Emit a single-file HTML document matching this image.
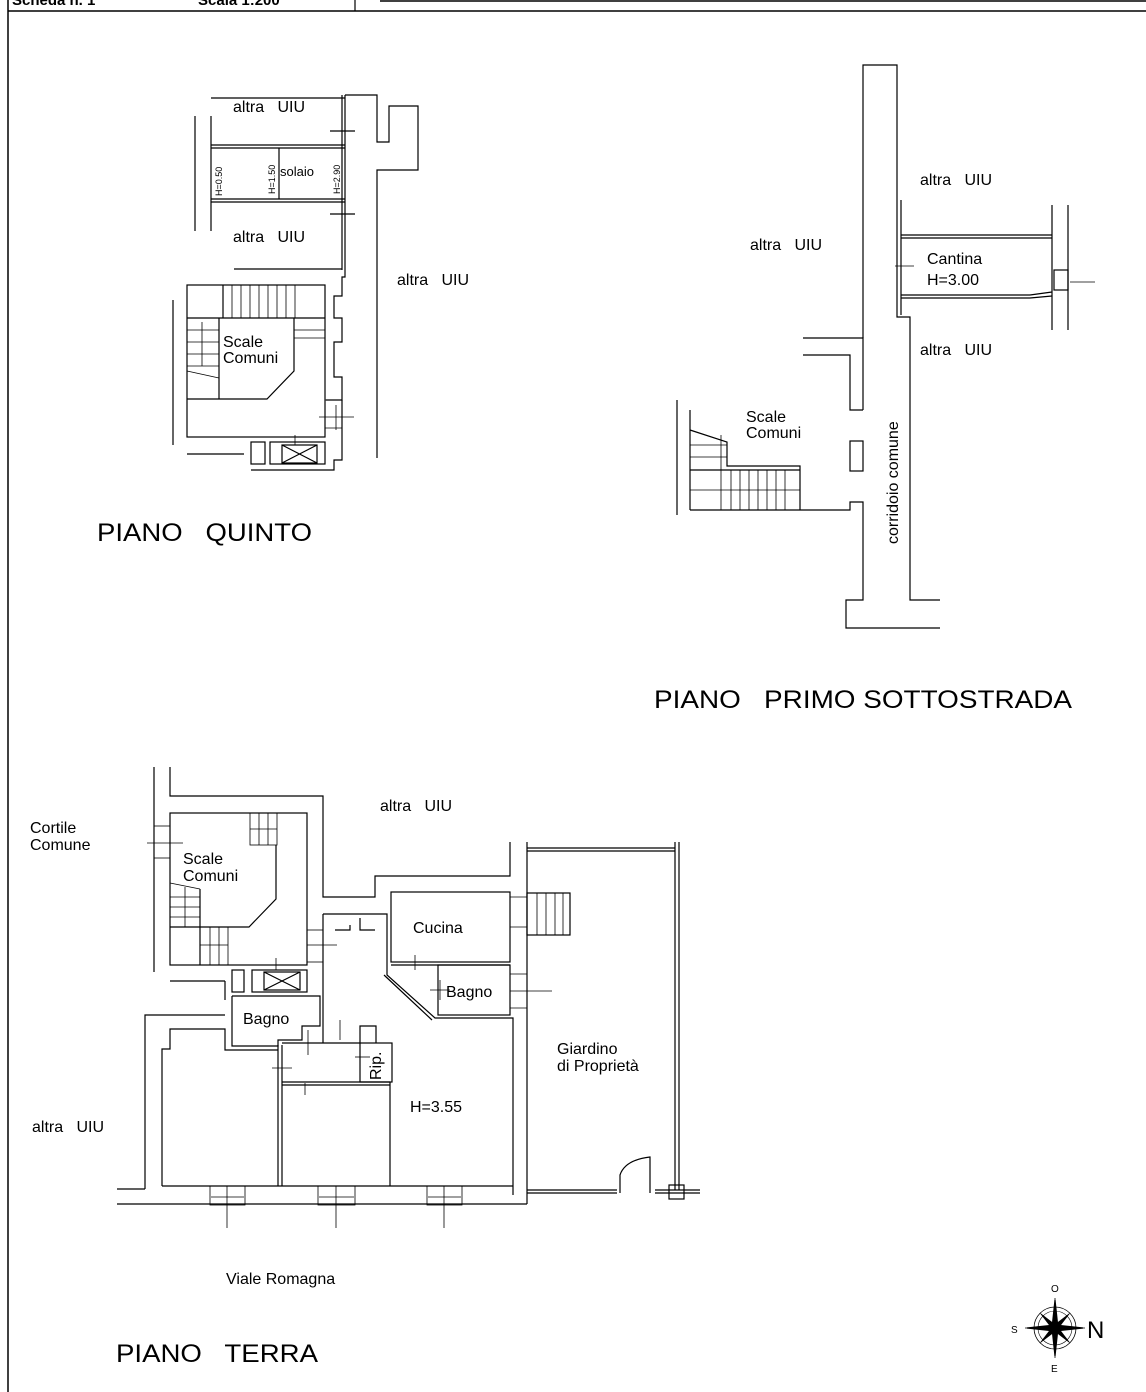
<!DOCTYPE html>
<html><head><meta charset="utf-8"><style>
html,body{margin:0;padding:0;background:#fff;}
svg{display:block;}
text{font-family:"Liberation Sans",sans-serif;fill:#000;}
</style></head><body>
<svg width="1146" height="1392" viewBox="0 0 1146 1392" xmlns="http://www.w3.org/2000/svg">
<g fill="none" stroke="#000" stroke-width="1.2">
<line x1="8" y1="0" x2="8" y2="1392" stroke-width="1.5"/>
<line x1="8" y1="11" x2="1146" y2="11" stroke-width="1.5"/>
<line x1="355" y1="0" x2="355" y2="11"/>
<line x1="380" y1="1" x2="1146" y2="1" stroke-width="1.5"/>

<!-- ===== PIANO QUINTO ===== -->
<line x1="211" y1="98" x2="345" y2="98"/>
<line x1="211" y1="116" x2="211" y2="231"/>
<line x1="195" y1="116" x2="195" y2="231"/>
<line x1="342" y1="95" x2="342" y2="270"/>
<polyline points="345,95 377,95 377,142 389,142 389,106 418,106 418,170 377,170 377,458"/>
<line x1="211" y1="145" x2="345" y2="145"/><line x1="211" y1="148" x2="345" y2="148"/>
<line x1="211" y1="199" x2="345" y2="199"/><line x1="211" y1="202" x2="345" y2="202"/>
<line x1="279" y1="148" x2="279" y2="199"/>
<line x1="330" y1="131" x2="355" y2="131"/><line x1="330" y1="214" x2="355" y2="214"/>
<line x1="234" y1="269" x2="342" y2="269"/>
<polyline points="345,95 345,277 342,277 342,296 334,296 334,318 342,318 342,342 334,342 334,377 342,377 342,400 326,400"/>
<polyline points="342,400 342,460 334,460 334,470 251,470"/>
<rect x="187" y="285" width="138" height="152"/>
<line x1="173" y1="300" x2="173" y2="445"/>
<line x1="187" y1="318" x2="325" y2="318"/>
<line x1="223" y1="285" x2="223" y2="318"/>
<g stroke-width="0.8"><line x1="232" y1="285" x2="232" y2="318"/><line x1="241" y1="285" x2="241" y2="318"/><line x1="250" y1="285" x2="250" y2="318"/><line x1="259" y1="285" x2="259" y2="318"/><line x1="268" y1="285" x2="268" y2="318"/><line x1="277" y1="285" x2="277" y2="318"/><line x1="286" y1="285" x2="286" y2="318"/><line x1="295" y1="285" x2="295" y2="318"/>
<line x1="187" y1="330" x2="219" y2="330"/><line x1="187" y1="342" x2="219" y2="342"/><line x1="187" y1="354" x2="219" y2="354"/><line x1="187" y1="366" x2="219" y2="366"/>
<line x1="294" y1="330" x2="325" y2="330"/><line x1="294" y1="338" x2="325" y2="338"/>
<line x1="187" y1="371" x2="219" y2="378"/><line x1="202" y1="322" x2="202" y2="366"/>
<line x1="325" y1="400" x2="342" y2="400"/><line x1="325" y1="428" x2="342" y2="428"/><line x1="319" y1="417" x2="354" y2="417"/><line x1="336" y1="405" x2="336" y2="430"/>
<line x1="295" y1="435" x2="295" y2="445"/>
</g>
<line x1="219" y1="318" x2="219" y2="399"/>
<polyline points="187,399 267,399 294,371 294,318"/>
<line x1="187" y1="454" x2="244" y2="454"/>
<rect x="251" y="442" width="14" height="22"/>
<rect x="270" y="442" width="55" height="22"/>
<rect x="282" y="445" width="35" height="18"/>
<line x1="282" y1="445" x2="317" y2="463"/><line x1="317" y1="445" x2="282" y2="463"/>

<!-- ===== PIANO PRIMO SOTTOSTRADA ===== -->
<polyline points="863,338 863,65 897,65 897,317 910,317 910,600 940,600"/>
<polyline points="803,338 863,338 863,410"/>
<polyline points="803,355 850,355 850,410 863,410"/>
<rect x="850" y="441" width="13" height="30"/>
<polyline points="690,510 850,510 850,502 863,502 863,600 846,600 846,628 940,628"/>
<line x1="677" y1="400" x2="677" y2="515"/>
<polyline points="690,410 690,510"/>
<polyline points="690,430 727,442 727,466 800,466 800,510"/>
<line x1="690" y1="470" x2="800" y2="470"/>
<g stroke-width="0.8">
<line x1="721" y1="435" x2="721" y2="470"/>
<line x1="690" y1="445" x2="727" y2="445"/><line x1="690" y1="457" x2="727" y2="457"/>
<line x1="690" y1="490" x2="800" y2="490"/>
<line x1="721" y1="470" x2="721" y2="510"/><line x1="731" y1="470" x2="731" y2="510"/><line x1="740" y1="470" x2="740" y2="510"/><line x1="749" y1="470" x2="749" y2="510"/><line x1="758" y1="470" x2="758" y2="510"/><line x1="767" y1="470" x2="767" y2="510"/><line x1="776" y1="470" x2="776" y2="510"/><line x1="785" y1="470" x2="785" y2="510"/>
</g>
<line x1="901" y1="200" x2="901" y2="315"/>
<line x1="901" y1="235" x2="1052" y2="235"/><line x1="901" y1="238" x2="1052" y2="238"/>
<line x1="901" y1="295" x2="1030" y2="295"/><polyline points="1030,295 1052,292"/>
<line x1="901" y1="298" x2="1030" y2="298"/><polyline points="1030,298 1052,296"/>
<line x1="1052" y1="205" x2="1052" y2="330"/>
<line x1="1068" y1="205" x2="1068" y2="330"/>
<rect x="1054" y="270" width="14" height="20"/>
<line x1="1070" y1="282" x2="1095" y2="282" stroke-width="0.8"/>
<line x1="895" y1="266" x2="914" y2="266" stroke-width="0.8"/>

<!-- ===== PIANO TERRA ===== -->
<line x1="154" y1="767" x2="154" y2="972"/>
<polyline points="170,767 170,796 323,796 323,897 375,897 375,876 510,876 510,842"/>
<line x1="527" y1="842" x2="527" y2="1204"/>
<line x1="527" y1="848" x2="675" y2="848"/><line x1="527" y1="851" x2="675" y2="851"/>
<line x1="675" y1="842" x2="675" y2="1190"/><line x1="679" y1="842" x2="679" y2="1190"/>
<rect x="170" y="813" width="137" height="152"/>
<g stroke-width="0.8">
<rect x="250" y="813" width="27" height="32"/>
<line x1="259" y1="813" x2="259" y2="845"/><line x1="268" y1="813" x2="268" y2="845"/>
<line x1="250" y1="829" x2="277" y2="829"/>
<line x1="170" y1="883" x2="200" y2="889"/>
<line x1="170" y1="897" x2="200" y2="897"/><line x1="170" y1="907" x2="200" y2="907"/><line x1="170" y1="917" x2="200" y2="917"/>
<line x1="185" y1="887" x2="185" y2="927"/>
<line x1="210" y1="927" x2="210" y2="965"/><line x1="219" y1="927" x2="219" y2="965"/><line x1="228" y1="927" x2="228" y2="965"/>
<line x1="200" y1="945" x2="228" y2="945"/>
<line x1="154" y1="826" x2="170" y2="826"/><line x1="154" y1="858" x2="170" y2="858"/><line x1="147" y1="843" x2="183" y2="843"/>
<line x1="307" y1="930" x2="323" y2="930"/><line x1="307" y1="962" x2="323" y2="962"/><line x1="307" y1="945" x2="337" y2="945"/>
<line x1="276" y1="958" x2="276" y2="970"/>
</g>
<line x1="200" y1="889" x2="200" y2="965"/>
<polyline points="170,927 249,927 276,899 276,845"/>
<line x1="323" y1="914" x2="323" y2="1043"/>
<polyline points="323,914 387,914 387,975 435,1018 513,1018 513,1195"/>
<polyline points="384,975 432,1020"/>
<polyline points="335,930 350,930 350,925"/><polyline points="375,930 360,930 360,918"/>
<rect x="391" y="892" width="119" height="70"/>
<line x1="391" y1="965" x2="510" y2="965"/>
<rect x="438" y="965" width="72" height="50"/>
<rect x="527" y="893" width="43" height="42"/>
<g stroke-width="0.8">
<line x1="537" y1="893" x2="537" y2="935"/><line x1="546" y1="893" x2="546" y2="935"/><line x1="555" y1="893" x2="555" y2="935"/><line x1="563" y1="893" x2="563" y2="935"/>
<line x1="510" y1="897" x2="527" y2="897"/><line x1="510" y1="927" x2="527" y2="927"/>
<line x1="510" y1="974" x2="527" y2="974"/><line x1="510" y1="1008" x2="527" y2="1008"/>
<line x1="510" y1="991" x2="552" y2="991"/>
<line x1="430" y1="990" x2="450" y2="990"/><line x1="440" y1="980" x2="440" y2="1000"/>
<line x1="415" y1="955" x2="415" y2="970"/>
</g>
<rect x="232" y="970" width="12" height="22"/>
<rect x="252" y="970" width="55" height="22"/>
<rect x="264" y="972" width="36" height="18"/>
<line x1="264" y1="972" x2="300" y2="990"/><line x1="300" y1="972" x2="264" y2="990"/>
<line x1="170" y1="981" x2="225" y2="981"/>
<polyline points="225,981 225,1000"/>
<polyline points="232,996 320,996 320,1026 302,1026 302,1040 278,1040 278,1046 232,1046 232,996"/>
<polyline points="145,1189 145,1015 225,1015"/>
<line x1="117" y1="1189" x2="145" y2="1189"/>
<polyline points="117,1204 527,1204"/>
<polyline points="162,1186 162,1049 170,1049 170,1029 225,1029 225,1050 278,1050"/>
<line x1="162" y1="1186" x2="513" y2="1186"/>
<line x1="278" y1="1045" x2="278" y2="1186"/><line x1="282" y1="1045" x2="282" y2="1186"/>
<polyline points="282,1043 360,1043 360,1026 376,1026 376,1043"/>
<rect x="360" y="1043" width="32" height="39"/>
<line x1="390" y1="1082" x2="390" y2="1186"/>
<line x1="282" y1="1082" x2="390" y2="1082"/><line x1="282" y1="1085" x2="390" y2="1085"/>
<polyline points="527,1190 617,1190"/><polyline points="527,1193 617,1193"/>
<path d="M620,1193 L620,1175 Q625,1160 650,1157 L650,1193"/>
<line x1="655" y1="1190" x2="700" y2="1190"/><line x1="655" y1="1193" x2="700" y2="1193"/>
<rect x="669" y="1185" width="15" height="14"/>
<g stroke-width="0.8">
<rect x="210" y="1186" width="35" height="19"/><line x1="227" y1="1186" x2="227" y2="1228"/>
<rect x="318" y="1186" width="37" height="19"/><line x1="336" y1="1186" x2="336" y2="1228"/>
<rect x="427" y="1186" width="35" height="19"/><line x1="444" y1="1186" x2="444" y2="1228"/>
<line x1="211" y1="1197" x2="244" y2="1197"/><line x1="319" y1="1197" x2="354" y2="1197"/><line x1="428" y1="1197" x2="461" y2="1197"/>
<line x1="272" y1="1068" x2="292" y2="1068"/><line x1="308" y1="1030" x2="308" y2="1055"/>
<line x1="340" y1="1020" x2="340" y2="1040"/><line x1="305" y1="1083" x2="305" y2="1095"/>
<line x1="355" y1="1057" x2="370" y2="1057"/>
</g>

<g transform="translate(1055,1328)">
<circle r="21" stroke-width="0.8"/><circle r="17" stroke-width="0.6"/>
<line x1="0" y1="-30" x2="0" y2="30" stroke-width="0.8"/><line x1="-30" y1="0" x2="30" y2="0" stroke-width="0.8"/>
<polygon points="0,-28 3,0 0,28 -3,0" fill="#000"/>
<polygon points="-28,0 0,-3 28,0 0,3" fill="#000"/>
<polygon points="-15,-15 2,-2 15,15 -2,2" fill="#000" stroke-width="0.5"/>
<polygon points="15,-15 2,2 -15,15 -2,-2" fill="#000" stroke-width="0.5"/>
</g>
</g>

<text x="12" y="5" font-family="Liberation Mono" font-size="15" font-weight="bold">Scheda n. 1</text>
<text x="198" y="5" font-family="Liberation Mono" font-size="15" font-weight="bold">Scala 1:200</text>

<g font-size="16">
<text x="233" y="112">altra&#160;&#160; UIU</text>
<text x="233" y="242">altra&#160;&#160; UIU</text>
<text x="397" y="285">altra&#160;&#160; UIU</text>
<text x="223" y="347">Scale</text>
<text x="223" y="363">Comuni</text>
<text x="280" y="176" font-size="13">solaio</text>
</g>
<text transform="translate(222,196) rotate(-90)" font-size="9">H=0.50</text>
<text transform="translate(275,194) rotate(-90)" font-size="9">H=1.50</text>
<text transform="translate(340,194) rotate(-90)" font-size="9">H=2.90</text>
<text x="97" y="541" font-size="25" textLength="215" lengthAdjust="spacingAndGlyphs">PIANO&#160;&#160; QUINTO</text>

<g font-size="16">
<text x="920" y="185">altra&#160;&#160; UIU</text>
<text x="750" y="250">altra&#160;&#160; UIU</text>
<text x="920" y="355">altra&#160;&#160; UIU</text>
<text x="927" y="264">Cantina</text>
<text x="927" y="285">H=3.00</text>
<text x="746" y="422">Scale</text>
<text x="746" y="438">Comuni</text>
</g>
<text transform="translate(898,544) rotate(-90)" font-size="16">corridoio comune</text>
<text x="654" y="708" font-size="25" textLength="418" lengthAdjust="spacingAndGlyphs">PIANO&#160;&#160; PRIMO SOTTOSTRADA</text>

<g font-size="16">
<text x="30" y="833">Cortile</text>
<text x="30" y="850">Comune</text>
<text x="183" y="864">Scale</text>
<text x="183" y="881">Comuni</text>
<text x="380" y="811">altra&#160;&#160; UIU</text>
<text x="413" y="933">Cucina</text>
<text x="446" y="997">Bagno</text>
<text x="243" y="1024">Bagno</text>
<text x="410" y="1112">H=3.55</text>
<text x="557" y="1054">Giardino</text>
<text x="557" y="1071">di Proprietà</text>
<text x="32" y="1132">altra&#160;&#160; UIU</text>
<text x="226" y="1284">Viale Romagna</text>
</g>
<text transform="translate(381,1080) rotate(-90)" font-size="16">Rip.</text>
<text x="116" y="1362" font-size="25" textLength="202" lengthAdjust="spacingAndGlyphs">PIANO&#160;&#160; TERRA</text>

<text x="1051" y="1292" font-size="10">O</text>
<text x="1011" y="1333" font-size="10">S</text>
<text x="1051" y="1372" font-size="10">E</text>
<text x="1087" y="1338" font-size="24">N</text>
</svg>
</body></html>
